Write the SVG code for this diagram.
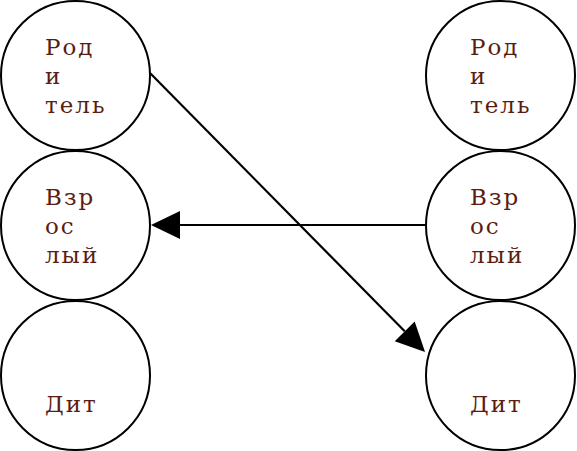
<svg xmlns="http://www.w3.org/2000/svg" width="577" height="451" viewBox="0 0 577 451">
<style>
.node circle{fill:#fff;stroke:#000;stroke-width:2}
.node text{font-family:"DejaVu Serif",serif;font-size:23px;letter-spacing:2px;fill:#5a1d10}
.edge{stroke:#000;stroke-width:2.2;fill:none}
</style>
<defs>
<marker id="ah" markerUnits="userSpaceOnUse" markerWidth="30" markerHeight="30" refX="0" refY="14" orient="auto" overflow="visible">
<path d="M0,0 L29,14 L0,28 z" fill="#000"/>
</marker>
</defs>
<rect width="577" height="451" fill="#fff"/>
<g id="n1" class="node"><circle cx="75.5" cy="75.5" r="74.5"/><text x="45"><tspan x="45" y="55">Род</tspan><tspan x="45" y="84">и</tspan><tspan x="45" y="113">тель</tspan></text></g>
<g id="n2" class="node"><circle cx="75.5" cy="225.5" r="74.5"/><text x="45"><tspan x="45" y="205">Взр</tspan><tspan x="45" y="234">ос</tspan><tspan x="45" y="263">лый</tspan></text></g>
<g id="n3" class="node"><circle cx="75.5" cy="375.5" r="74.5"/><text x="45" y="412">Дит</text></g>
<g id="n4" class="node"><circle cx="500.5" cy="75.5" r="74.5"/><text x="470"><tspan x="470" y="55">Род</tspan><tspan x="470" y="84">и</tspan><tspan x="470" y="113">тель</tspan></text></g>
<g id="n5" class="node"><circle cx="500.5" cy="225.5" r="74.5"/><text x="470"><tspan x="470" y="205">Взр</tspan><tspan x="470" y="234">ос</tspan><tspan x="470" y="263">лый</tspan></text></g>
<g id="n6" class="node"><circle cx="500.5" cy="375.5" r="74.5"/><text x="470" y="412">Дит</text></g>
<g id="connectors">
<line class="edge" x1="150" y1="73" x2="404.7" y2="331.3" marker-end="url(#ah)"/>
<line class="edge" x1="426" y1="225" x2="180" y2="225" marker-end="url(#ah)"/>
</g>
</svg>
